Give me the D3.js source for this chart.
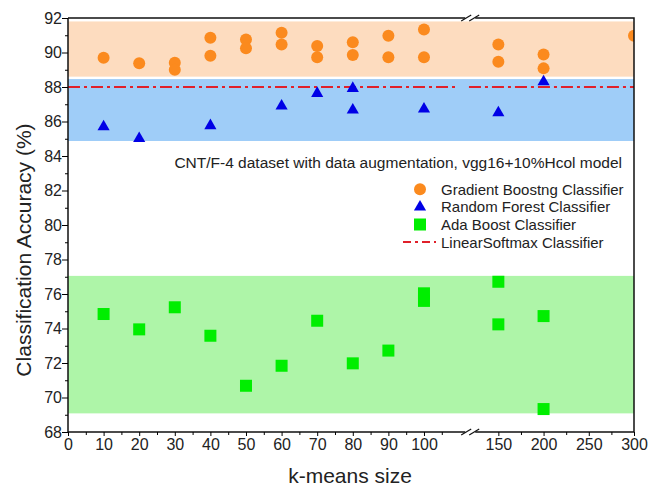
<!DOCTYPE html>
<html>
<head>
<meta charset="utf-8">
<script src="https://cdn.jsdelivr.net/npm/d3@7"></script>
<style>
  body { margin: 0; background: #fff; }
  svg { font-family: Arial, "Liberation Sans", sans-serif; }
</style>
</head>
<body>
<svg width="650" height="487"></svg>
<script>
// data
var gbX = [10, 20, 30, 30, 40, 40, 50, 50, 60, 60, 70, 70, 80, 80, 90, 90, 100, 100, 150, 150, 200, 200, 300];
var gbY = [89.7, 89.37, 89.4, 89.0, 90.86, 89.81, 90.76, 90.24, 91.15, 90.47, 90.38, 89.72, 90.59, 89.86, 90.97, 89.72, 91.34, 89.72, 90.47, 89.47, 89.89, 89.08, 90.97];

var rfX = [10, 20, 40, 60, 70, 80, 80, 100, 150, 200];
var rfY = [85.7, 85.02, 85.76, 86.9, 87.63, 87.92, 86.67, 86.72, 86.51, 88.31];

var abX = [10, 20, 30, 40, 50, 60, 70, 80, 90, 100, 100, 150, 150, 200, 200];
var abY = [74.84, 73.95, 75.23, 73.58, 70.68, 71.84, 74.45, 71.98, 72.72, 76.04, 75.6, 76.71, 74.24, 74.72, 69.33];

var softmaxY = 88.0;

// shaded ranges (orange, blue, green)
var bandLo = [88.6, 84.87, 69.08];
var bandHi = [91.8, 88.46, 77.05];
var bandColors = ["#fddcbf", "#9fcdf8", "#aef5a8"];

var yTicks = d3.range(68, 93, 2);
var xTicksA = [0, 10, 20, 30, 40, 50, 60, 70, 80, 90, 100];
var xTicksB = [150, 200, 250, 300];

var legendNames = ["Gradient Boostng Classifier", "Random Forest Classifier", "Ada Boost Classifier", "LinearSoftmax Classifier"];

var svg = d3.select("svg"),
    margin = { left: 68, top: 18 },
    width = 566,
    height = 414;

var g = svg.append("g").attr("transform", "translate(" + margin.left + "," + margin.top + ")");

// broken x axis: two linear pieces
var brk = 398.7;
var xa = d3.scaleLinear().domain([0, 112]).range([0, brk]);
var xb = d3.scaleLinear().domain([115, 300]).range([brk, width]);
function x(v) { return v <= 113 ? xa(v) : xb(v); }

var y = d3.scaleLinear().domain([68, 92]).range([height, 0]);

svg.append("clipPath").attr("id", "clip")
    .append("rect").attr("width", width).attr("height", height);

// bands
g.selectAll(".band")
    .data(bandLo)
    .enter().append("rect")
    .attr("x", 0)
    .attr("width", width)
    .attr("y", function (d, i) { return y(bandHi[i]); })
    .attr("height", function (d, i) { return y(d) - y(bandHi[i]); })
    .attr("fill", function (d, i) { return bandColors[i]; });

// softmax line, gap at the break
var red = "#e0202a";
[[0, 109.2], [117.5, 300]].forEach(function (seg) {
    g.append("line")
        .attr("x1", x(seg[0])).attr("x2", x(seg[1]))
        .attr("y1", y(softmaxY)).attr("y2", y(softmaxY))
        .style("stroke", red)
        .style("stroke-width", 2)
        .style("stroke-dasharray", "12,4,3,4");
});

var pts = g.append("g").attr("clip-path", "url(#clip)");

// orange circles
pts.selectAll(".gb")
    .data(gbX)
    .enter().append("circle")
    .attr("cx", function (d) { return x(d); })
    .attr("cy", function (d, i) { return y(gbY[i]); })
    .attr("r", 6)
    .attr("fill", "#fb8a1e");

// blue triangles
var tri = d3.symbol().type(d3.symbolTriangle).size(64);
pts.selectAll(".rf")
    .data(rfX)
    .enter().append("path")
    .attr("d", tri)
    .attr("transform", function (d, i) { return "translate(" + x(d) + "," + y(rfY[i]) + ")"; })
    .attr("fill", "#0000e6");

// green squares
pts.selectAll(".ab")
    .data(abX)
    .enter().append("rect")
    .attr("x", function (d) { return x(d) - 6; })
    .attr("y", function (d, i) { return y(abY[i]) - 6; })
    .attr("width", 12)
    .attr("height", 12)
    .attr("fill", "#00ee00");

// frame
var bx = x(112) + 3.5;
g.append("path")
    .attr("d", "M0,0V" + height + "H" + width + "V0H0")
    .style("fill", "none")
    .style("stroke", "#111")
    .style("stroke-width", 1.5);

// y axis ticks
var yAxis = g.append("g").call(d3.axisLeft(y).tickValues(yTicks).tickSize(6).tickSizeOuter(0));
yAxis.select(".domain").remove();
yAxis.selectAll("text").style("font-size", "16px").attr("fill", "#222").attr("x", -6);
g.append("g").call(d3.axisLeft(y).tickValues(d3.range(69, 92, 2)).tickSize(3).tickFormat(""))
    .select(".domain").remove();

// x axis ticks
[[xa, xTicksA, d3.range(5, 111, 10)], [xb, xTicksB, [175, 225, 275]]].forEach(function (p) {
    var ax = g.append("g").attr("transform", "translate(0," + height + ")")
        .call(d3.axisBottom(p[0]).tickValues(p[1]).tickSize(4).tickSizeOuter(0));
    ax.select(".domain").remove();
    ax.selectAll("text").style("font-size", "16px").attr("fill", "#222").attr("y", 7);
    g.append("g").attr("transform", "translate(0," + height + ")")
        .call(d3.axisBottom(p[0]).tickValues(p[2]).tickSize(3).tickFormat(""))
        .select(".domain").remove();
});

// break marks on top and bottom
[0, height].forEach(function (yy) {
    g.append("rect").attr("x", bx - 5).attr("y", yy - 2).attr("width", 10).attr("height", 4).attr("fill", "#fff");
    [-4, 4].forEach(function (dx) {
        g.append("line")
            .attr("x1", bx + dx - 5).attr("y1", yy + 3)
            .attr("x2", bx + dx + 5).attr("y2", yy - 3)
            .style("stroke", "#111").style("stroke-width", 1.2);
    });
});

// annotation
g.append("text")
    .attr("x", 554)
    .attr("y", 150)
    .attr("text-anchor", "end")
    .style("font-size", "15.5px")
    .attr("fill", "#222")
    .text("CNT/F-4 dataset with data augmentation, vgg16+10%Hcol model");

// legend
var lx = 352, ly0 = 171.3, ldy = 17.6;
var leg = g.append("g");
leg.append("circle").attr("cx", lx).attr("cy", ly0).attr("r", 6).attr("fill", "#fb8a1e");
leg.append("path").attr("d", tri).attr("transform", "translate(" + lx + "," + (ly0 + ldy) + ")").attr("fill", "#0000e6");
leg.append("rect").attr("x", lx - 6).attr("y", ly0 + 2 * ldy - 6).attr("width", 12).attr("height", 12).attr("fill", "#00ee00");
leg.append("line")
    .attr("x1", lx - 17).attr("x2", lx + 16)
    .attr("y1", ly0 + 3 * ldy).attr("y2", ly0 + 3 * ldy)
    .style("stroke", red).style("stroke-width", 2).style("stroke-dasharray", "8,4,3,4");
leg.selectAll("text")
    .data(legendNames)
    .enter().append("text")
    .attr("x", lx + 21)
    .attr("y", function (d, i) { return ly0 + i * ldy + 5.5; })
    .style("font-size", "15px")
    .attr("fill", "#222")
    .text(function (d) { return d; });

// axis titles
svg.append("text")
    .attr("transform", "translate(31,250) rotate(-90)")
    .attr("text-anchor", "middle")
    .style("font-size", "21px")
    .attr("fill", "#222")
    .text("Classification Accuracy (%)");

svg.append("text")
    .attr("x", 350)
    .attr("y", 483)
    .attr("text-anchor", "middle")
    .style("font-size", "21px")
    .attr("fill", "#222")
    .text("k-means size");
</script>
</body>
</html>
